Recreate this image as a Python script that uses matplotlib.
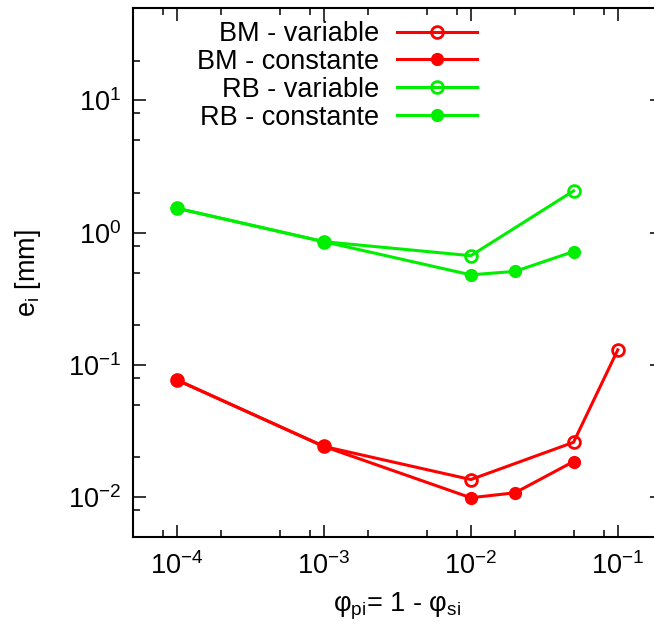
import matplotlib
matplotlib.use("Agg")
import matplotlib.pyplot as plt
from matplotlib.ticker import LogLocator, NullFormatter

plt.rcParams["font.family"] = ["Liberation Sans", "DejaVu Sans"]
plt.rcParams["mathtext.fontset"] = "custom"
plt.rcParams["mathtext.rm"] = "Liberation Sans"
plt.rcParams["mathtext.it"] = "Liberation Sans:italic"

# datos
x_bm_var = [1e-4, 1e-3, 1e-2, 5e-2, 1e-1]
y_bm_var = [0.077, 0.0242, 0.0136, 0.026, 0.13]
x_bm_cte = [1e-4, 1e-3, 1e-2, 2e-2, 5e-2]
y_bm_cte = [0.077, 0.0242, 0.0099, 0.0108, 0.0186]
x_rb_var = [1e-4, 1e-3, 1e-2, 5e-2]
y_rb_var = [1.53, 0.855, 0.67, 2.07]
x_rb_cte = [1e-4, 1e-3, 1e-2, 2e-2, 5e-2]
y_rb_cte = [1.53, 0.855, 0.48, 0.51, 0.72]

RED = "#ff0000"
GREEN = "#00ee00"
FS = 19.5

W, H = 654, 626
fig = plt.figure(figsize=(W / 100, H / 100), dpi=100)
# el borde derecho queda fuera de la imagen, como en el original
left, right, top, bottom = 132.7, 662, 8, 537
ax = fig.add_axes([left / W, 1 - bottom / H, (right - left) / W, (bottom - top) / H])

kw = dict(lw=2.2, ms=8.5)
ax.plot(x_bm_var, y_bm_var, "-o", color=RED, mfc="none", mew=2, label="BM - variable", **kw)
ax.plot(x_bm_cte, y_bm_cte, "-o", color=RED, label="BM - constante", **kw)
ax.plot(x_rb_var, y_rb_var, "-o", color=GREEN, mfc="none", mew=2, label="RB - variable", **kw)
ax.plot(x_rb_cte, y_rb_cte, "-o", color=GREEN, label="RB - constante", **kw)

ax.set_xscale("log")
ax.set_yscale("log")
ax.set_xlim(5e-5, 0.2)
ax.set_ylim(5e-3, 50)

for axis in (ax.xaxis, ax.yaxis):
    axis.set_major_locator(LogLocator(base=10, numticks=20))
    axis.set_minor_locator(LogLocator(base=10, subs=[2, 5, 8], numticks=20))
    axis.set_minor_formatter(NullFormatter())

ax.tick_params(which="both", direction="in", top=True, right=True, width=1.1)
ax.tick_params(which="major", length=9, labelsize=FS, pad=11)
ax.tick_params(which="minor", length=5)
ax.tick_params(axis="y", which="major", pad=8)
for s in ax.spines.values():
    s.set_linewidth(1.5)

ax.set_xlabel(r"φ$_{\mathrm{pi}}$= 1 - φ$_{\mathrm{si}}$", fontsize=FS, labelpad=8)
ax.set_ylabel(r"e$_{\mathrm{i}}$ [mm]", fontsize=FS, labelpad=18)

ax.legend(loc="upper right", bbox_to_anchor=(477 / W, 1 - 21 / H),
          bbox_transform=fig.transFigure, frameon=False, markerfirst=False,
          fontsize=FS, handlelength=2.95, handletextpad=0.65, labelspacing=0.07,
          borderpad=0, borderaxespad=0)

fig.savefig("out.png", dpi=100)
